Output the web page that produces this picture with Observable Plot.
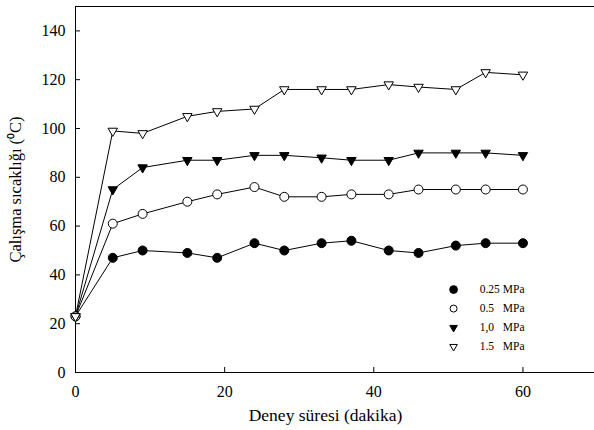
<!DOCTYPE html>
<html><head><meta charset="utf-8">
<script src="https://cdn.jsdelivr.net/npm/d3@7"></script>
<script src="https://cdn.jsdelivr.net/npm/@observablehq/plot@0.6"></script>
<style>
html,body{margin:0;padding:0;background:#fff;overflow:hidden}
svg, svg text { font-family: "Liberation Serif", "Times New Roman", serif !important; }
</style>
</head><body><div id="chart"></div>
<script>
// Data
const time  = [0, 5, 9, 15, 19, 24, 28, 33, 37, 42, 46, 51, 55, 60];
const p025  = [23, 47, 50, 49, 47, 53, 50, 53, 54, 50, 49, 52, 53, 53];
const p05   = [23, 61, 65, 70, 73, 76, 72, 72, 73, 73, 75, 75, 75, 75];
const p10   = [23, 75, 84, 87, 87, 89, 89, 88, 87, 87, 90, 90, 90, 89];
const p15   = [23, 99, 98, 105, 107, 108, 116, 116, 116, 118, 117, 116, 123, 122];
const seriesNames = ["0.25", "0.5", "1,0", "1.5"];
const unit = "MPa";
const xTicks = [0, 20, 40, 60];
const yTicks = [0, 20, 40, 60, 80, 100, 120, 140];
const xLabel = "Deney süresi (dakika)";
const yLabel = "Çalışma sıcaklığı (⁰C)";

const W = 594, H = 430;
const mL = 75, mR = -3, mT = 6, mB = 58;
const frameW = W - mL - mR, frameH = H - mT - mB;
const font = "Liberation Serif, Times New Roman, serif";

const values = [p025, p05, p10, p15];
const styles = [
  {symbol: "circle", fill: "black", rotate: 0, r: 4.5, lr: 3.9},
  {symbol: "circle", fill: "white", rotate: 0, r: 4.5, lr: 3.5},
  {symbol: "triangle", fill: "black", rotate: 180, r: 3.5, lr: 2.8},
  {symbol: "triangle", fill: "white", rotate: 180, r: 3.5, lr: 2.8}
];
const rows = values.flatMap((vals, s) => vals.map((v, i) => ({series: seriesNames[s], s, t: time[i], v})));

// legend placement (in data units)
const legX = 50.7, legTextX = 54.2, legUnitX = 57.3, legY0 = 34, legStep = 7.8;

const marks = [
  Plot.frame({stroke: "black", strokeWidth: 1}),
  Plot.tickY(yTicks, {y: d => d, insetRight: frameW - 5, stroke: "black"}),
  Plot.tickX(xTicks, {x: d => d, insetTop: frameH - 5, stroke: "black"}),
  Plot.axisY({ticks: yTicks, tickSize: 0, tickPadding: 10, fontSize: 16, fontFamily: font, label: null}),
  Plot.axisX({ticks: xTicks, tickSize: 0, tickPadding: 13, fontSize: 16, fontFamily: font, label: null}),
  Plot.text([yLabel], {frameAnchor: "left", textAnchor: "middle", lineAnchor: "middle", rotate: -90, dx: -60, fontSize: 16.5, fontFamily: font, fill: "black"}),
  Plot.text([xLabel], {frameAnchor: "bottom", textAnchor: "middle", lineAnchor: "middle", dy: 43, dx: -11, fontSize: 17.5, fontFamily: font, fill: "black"}),
  Plot.line(rows, {x: "t", y: "v", z: "series", stroke: "black", strokeWidth: 1})
];
styles.forEach((st, s) => {
  marks.push(Plot.dot(rows.filter(d => d.s === s), {
    x: "t", y: "v", r: st.r, symbol: st.symbol, rotate: st.rotate,
    fill: st.fill, stroke: "black", strokeWidth: 1
  }));
  marks.push(Plot.dot([seriesNames[s]], {
    x: () => legX, y: () => legY0 - legStep * s, r: st.lr,
    symbol: st.symbol, rotate: st.rotate, fill: st.fill, stroke: "black", strokeWidth: 1
  }));
});
marks.push(Plot.text(seriesNames, {
  x: () => legTextX, y: (d, i) => legY0 - legStep * i, text: d => d,
  textAnchor: "start", fontSize: 11.5, fontFamily: font, fill: "black"
}));
marks.push(Plot.text(seriesNames, {
  x: () => legUnitX, y: (d, i) => legY0 - legStep * i, text: () => unit,
  textAnchor: "start", fontSize: 11.5, fontFamily: font, fill: "black"
}));

const chart = Plot.plot({
  width: W, height: H,
  marginLeft: mL, marginRight: mR, marginTop: mT, marginBottom: mB,
  x: {domain: [0, 70]},
  y: {domain: [0, 150]},
  style: {fontFamily: font, fontSize: "16px", color: "black", background: "white", overflow: "hidden", maxWidth: "none"},
  marks
});
document.getElementById("chart").appendChild(chart);
</script>
</body></html>
